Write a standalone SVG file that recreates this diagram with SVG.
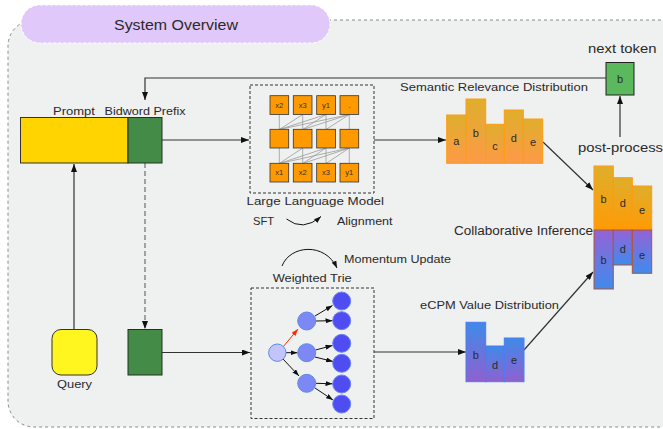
<svg xmlns="http://www.w3.org/2000/svg" width="663" height="429" viewBox="0 0 663 429">
<style>
text{font-family:"Liberation Sans",Arial,sans-serif;fill:#2a2a2a}
.lbl{font-size:11.5px}
.bar{font-size:11px;text-anchor:middle}
.sq{fill:#ff9900;stroke:#333;stroke-width:0.8}
.sqt{font-size:7.5px;text-anchor:middle;fill:#333}
.att{stroke:#9a9a9a;stroke-width:0.8;fill:none}
.con{stroke:#333;stroke-width:1.2;fill:none}
.dbox{fill:none;stroke:#333;stroke-width:1;stroke-dasharray:3,2}
.l3{fill:#4f4cf2;stroke:#6a86f0;stroke-width:1}
.l2{fill:#7d88f4;stroke:#5a8ce8;stroke-width:1}
.te{stroke:#111;stroke-width:1;fill:none}
</style>
<defs>
<marker id="arr" markerWidth="8" markerHeight="6" refX="8" refY="3" orient="auto" markerUnits="userSpaceOnUse"><path d="M0,0 L8,3 L0,6 z" fill="#111"/></marker>
<marker id="arrs" markerWidth="7" markerHeight="5" refX="7" refY="2.5" orient="auto" markerUnits="userSpaceOnUse"><path d="M0,0 L7,2.5 L0,5 z" fill="#111"/></marker>
<marker id="arrr" markerWidth="7" markerHeight="5" refX="7" refY="2.5" orient="auto" markerUnits="userSpaceOnUse"><path d="M0,0 L7,2.5 L0,5 z" fill="#ff2a00"/></marker>
<linearGradient id="semG" x1="0" y1="0" x2="0" y2="1"><stop offset="0" stop-color="#dfae2b"/><stop offset="1" stop-color="#fd9a48"/></linearGradient>
<linearGradient id="colT" x1="0" y1="0" x2="0" y2="1"><stop offset="0" stop-color="#dfae2b"/><stop offset="1" stop-color="#ff9a05"/></linearGradient>
<linearGradient id="colB" x1="0" y1="0" x2="0" y2="1"><stop offset="0" stop-color="#9363d6"/><stop offset="1" stop-color="#3f8bee"/></linearGradient>
<linearGradient id="ecG" x1="0" y1="0" x2="0" y2="1"><stop offset="0" stop-color="#3f8ae8"/><stop offset="1" stop-color="#8f60d0"/></linearGradient>
</defs>
<rect width="663" height="429" fill="#ffffff"/>
<g id="container">
<rect x="8" y="20" width="690" height="407" rx="26" fill="#eff0f0" stroke="#8a8a8a" stroke-width="1" stroke-dasharray="3,3"/>
</g>
<g id="title">
<rect x="21" y="5" width="309" height="38" rx="19" fill="#e1c8fa" stroke="#ffffff" stroke-width="1" stroke-dasharray="3,2"/>
<text x="176" y="29.5" font-size="15.5" text-anchor="middle" textLength="124" lengthAdjust="spacingAndGlyphs">System Overview</text>
</g>
<g id="connectors">
<polyline class="con" points="606,78 145,78 145,100" stroke="#555" marker-end="url(#arr)"/>
<line class="con" x1="162" y1="140" x2="249" y2="140" marker-end="url(#arr)"/>
<line x1="145" y1="163" x2="145" y2="329" stroke="#777" stroke-width="1.3" stroke-dasharray="5,3" marker-end="url(#arr)"/>
<line class="con" x1="74" y1="329" x2="74" y2="164" marker-end="url(#arr)"/>
<line class="con" x1="162" y1="352.5" x2="250" y2="352.5" marker-end="url(#arr)"/>
<line class="con" x1="374" y1="140" x2="446" y2="140" marker-end="url(#arr)"/>
<line class="con" x1="374" y1="352" x2="466" y2="352" marker-end="url(#arr)"/>
<line class="con" x1="543" y1="142" x2="593" y2="190" marker-end="url(#arr)"/>
<line class="con" x1="524" y1="350" x2="593" y2="272" marker-end="url(#arr)"/>
<line class="con" x1="620" y1="137" x2="620" y2="96" marker-end="url(#arr)"/>
<path class="te" d="M286.5,219 Q303,232 321,216.5" marker-end="url(#arrs)"/>
<path class="te" d="M282,266 C290,245 325,242 337,268" marker-end="url(#arrs)"/>
</g>
<g id="prompt">
<rect x="20.5" y="117.5" width="107.5" height="45.5" fill="#ffd400" stroke="#333" stroke-width="1"/>
<text class="lbl" x="53" y="115" textLength="42" lengthAdjust="spacingAndGlyphs">Prompt</text>
</g>
<g id="bidword-prefix">
<rect x="128" y="117.5" width="34" height="45.5" fill="#438b47" stroke="#223322" stroke-width="1"/>
<text class="lbl" x="104.5" y="115" textLength="81" lengthAdjust="spacingAndGlyphs">Bidword Prefix</text>
</g>
<g id="query">
<rect x="52" y="329.5" width="45" height="45.5" rx="9" fill="#fff51f" stroke="#333" stroke-width="1"/>
<text class="lbl" x="57" y="388" textLength="35" lengthAdjust="spacingAndGlyphs">Query</text>
</g>
<g id="bidword-small">
<rect x="128" y="329.5" width="34" height="45.5" fill="#438b47" stroke="#223322" stroke-width="1"/>
</g>
<g id="llm">
<rect class="dbox" x="250" y="85" width="124" height="108"/>
<g>
<line class="att" x1="279.3" y1="114.5" x2="279.3" y2="129.5"/>
<line class="att" x1="302.7" y1="114.5" x2="279.3" y2="129.5"/>
<line class="att" x1="302.7" y1="114.5" x2="302.7" y2="129.5"/>
<line class="att" x1="326" y1="114.5" x2="279.3" y2="129.5"/>
<line class="att" x1="326" y1="114.5" x2="302.7" y2="129.5"/>
<line class="att" x1="326" y1="114.5" x2="326" y2="129.5"/>
<line class="att" x1="349.3" y1="114.5" x2="279.3" y2="129.5"/>
<line class="att" x1="349.3" y1="114.5" x2="302.7" y2="129.5"/>
<line class="att" x1="349.3" y1="114.5" x2="326" y2="129.5"/>
<line class="att" x1="349.3" y1="114.5" x2="349.3" y2="129.5"/>
<line class="att" x1="279.3" y1="148" x2="279.3" y2="163.5"/>
<line class="att" x1="302.7" y1="148" x2="279.3" y2="163.5"/>
<line class="att" x1="302.7" y1="148" x2="302.7" y2="163.5"/>
<line class="att" x1="326" y1="148" x2="279.3" y2="163.5"/>
<line class="att" x1="326" y1="148" x2="302.7" y2="163.5"/>
<line class="att" x1="326" y1="148" x2="326" y2="163.5"/>
<line class="att" x1="349.3" y1="148" x2="279.3" y2="163.5"/>
<line class="att" x1="349.3" y1="148" x2="302.7" y2="163.5"/>
<line class="att" x1="349.3" y1="148" x2="326" y2="163.5"/>
<line class="att" x1="349.3" y1="148" x2="349.3" y2="163.5"/>
</g>
<rect class="sq" x="270" y="95.7" width="18.7" height="18.7"/>
<rect class="sq" x="293.3" y="95.7" width="18.7" height="18.7"/>
<rect class="sq" x="316.7" y="95.7" width="18.7" height="18.7"/>
<rect class="sq" x="340" y="95.7" width="18.7" height="18.7"/>
<rect class="sq" x="270" y="129.3" width="18.7" height="18.7"/>
<rect class="sq" x="293.3" y="129.3" width="18.7" height="18.7"/>
<rect class="sq" x="316.7" y="129.3" width="18.7" height="18.7"/>
<rect class="sq" x="340" y="129.3" width="18.7" height="18.7"/>
<rect class="sq" x="270" y="163.3" width="18.7" height="18.7"/>
<rect class="sq" x="293.3" y="163.3" width="18.7" height="18.7"/>
<rect class="sq" x="316.7" y="163.3" width="18.7" height="18.7"/>
<rect class="sq" x="340" y="163.3" width="18.7" height="18.7"/>
<text class="sqt" x="279.3" y="107.5">x2</text>
<text class="sqt" x="302.7" y="107.5">x3</text>
<text class="sqt" x="326" y="107.5">y1</text>
<text class="sqt" x="349.3" y="107.5">.</text>
<text class="sqt" x="279.3" y="175">x1</text>
<text class="sqt" x="302.7" y="175">x2</text>
<text class="sqt" x="326" y="175">x3</text>
<text class="sqt" x="349.3" y="175">y1</text>
<text class="lbl" x="246.5" y="205" textLength="137.5" lengthAdjust="spacingAndGlyphs">Large Language Model</text>
<text class="lbl" x="253" y="225" textLength="21" lengthAdjust="spacingAndGlyphs">SFT</text>
<text class="lbl" x="337" y="225" textLength="55.5" lengthAdjust="spacingAndGlyphs">Alignment</text>
</g>
<g id="semantic-distribution">
<text class="lbl" x="400" y="91" textLength="188" lengthAdjust="spacingAndGlyphs">Semantic Relevance Distribution</text>
<g fill="url(#semG)" stroke="#ff9c10" stroke-width="1">
<rect x="446.7" y="115" width="19.3" height="48.3"/>
<rect x="466" y="99" width="19.7" height="64.3"/>
<rect x="485.7" y="124.3" width="18.6" height="39"/>
<rect x="504.3" y="110" width="19" height="53.3"/>
<rect x="523.3" y="119" width="19.4" height="44.3"/>
</g>
<text class="bar" x="456.3" y="145">a</text>
<text class="bar" x="475.8" y="137">b</text>
<text class="bar" x="495" y="149.5">c</text>
<text class="bar" x="513.8" y="141.5">d</text>
<text class="bar" x="533" y="146">e</text>
</g>
<g id="next-token">
<text x="588" y="53" font-size="13" textLength="68.5" lengthAdjust="spacingAndGlyphs">next token</text>
<rect x="606" y="62.5" width="28" height="32.5" fill="#5cb85c" stroke="#222" stroke-width="1"/>
<text class="bar" x="620" y="82.5">b</text>
<text x="578" y="152" font-size="13" textLength="85" lengthAdjust="spacingAndGlyphs">post-process</text>
</g>
<g id="collaborative-inference">
<g fill="url(#colT)" stroke="#ff9a10" stroke-width="1">
<rect x="594" y="166" width="19.3" height="64"/>
<rect x="613.3" y="177.7" width="19" height="52.3"/>
<rect x="632.3" y="186" width="19.4" height="44"/>
</g>
<g fill="url(#colB)" stroke="#b4542a" stroke-width="1">
<rect x="594" y="230" width="19.3" height="59"/>
<rect x="613.3" y="230" width="19" height="35"/>
<rect x="632.3" y="230" width="19.4" height="43.3"/>
</g>
<text class="bar" x="603.6" y="203">b</text>
<text class="bar" x="622.8" y="207">d</text>
<text class="bar" x="642" y="213.5">e</text>
<text class="bar" x="603.6" y="264">b</text>
<text class="bar" x="622.8" y="252.5">d</text>
<text class="bar" x="642" y="258.5">e</text>
<text x="454" y="234.5" font-size="12" textLength="139" lengthAdjust="spacingAndGlyphs">Collaborative Inference</text>
</g>
<g id="weighted-trie">
<rect class="dbox" x="251" y="288" width="123" height="130.5"/>
<text class="lbl" x="272.7" y="282" font-size="12" textLength="79" lengthAdjust="spacingAndGlyphs">Weighted Trie</text>
<text class="lbl" x="344" y="263" textLength="107" lengthAdjust="spacingAndGlyphs">Momentum Update</text>
<line x1="283" y1="347" x2="298" y2="329" stroke="#ff2a00" stroke-width="1" marker-end="url(#arrr)"/>
<line class="te" x1="286" y1="352.7" x2="297.5" y2="352.7" marker-end="url(#arrs)"/>
<line class="te" x1="283" y1="359" x2="299" y2="376" marker-end="url(#arrs)"/>
<line class="te" x1="315" y1="316" x2="332.5" y2="305.5" marker-end="url(#arrs)"/>
<line class="te" x1="316" y1="321" x2="332.5" y2="320.7" marker-end="url(#arrs)"/>
<line class="te" x1="315.5" y1="350" x2="332.5" y2="345.5" marker-end="url(#arrs)"/>
<line class="te" x1="315" y1="357" x2="333" y2="361.5" marker-end="url(#arrs)"/>
<line class="te" x1="316" y1="383.3" x2="332.5" y2="383.8" marker-end="url(#arrs)"/>
<line class="te" x1="315" y1="388" x2="333" y2="400" marker-end="url(#arrs)"/>
<circle cx="277.3" cy="352.7" r="8.7" fill="#c2c4fb" stroke="#5a8ce8" stroke-width="1"/>
<circle class="l2" cx="306.7" cy="321" r="9"/>
<circle class="l2" cx="306.7" cy="352.7" r="9"/>
<circle class="l2" cx="306.7" cy="383.3" r="9"/>
<circle class="l3" cx="341.7" cy="301" r="9"/>
<circle class="l3" cx="341.7" cy="320.7" r="9"/>
<circle class="l3" cx="341.7" cy="343.3" r="9"/>
<circle class="l3" cx="341.7" cy="363.3" r="9"/>
<circle class="l3" cx="341.7" cy="384" r="9"/>
<circle class="l3" cx="341.7" cy="404" r="9"/>
</g>
<g id="ecpm-distribution">
<text class="lbl" x="420" y="309" textLength="139" lengthAdjust="spacingAndGlyphs">eCPM Value Distribution</text>
<g fill="url(#ecG)" stroke="#4a7cf0" stroke-width="1">
<rect x="466" y="322.3" width="19.7" height="59.4"/>
<rect x="485.7" y="346" width="18.6" height="35.7"/>
<rect x="504.3" y="338" width="19.7" height="43.7"/>
</g>
<text class="bar" x="475.8" y="358.5">b</text>
<text class="bar" x="495" y="369">d</text>
<text class="bar" x="514" y="364">e</text>
</g>
</svg>
